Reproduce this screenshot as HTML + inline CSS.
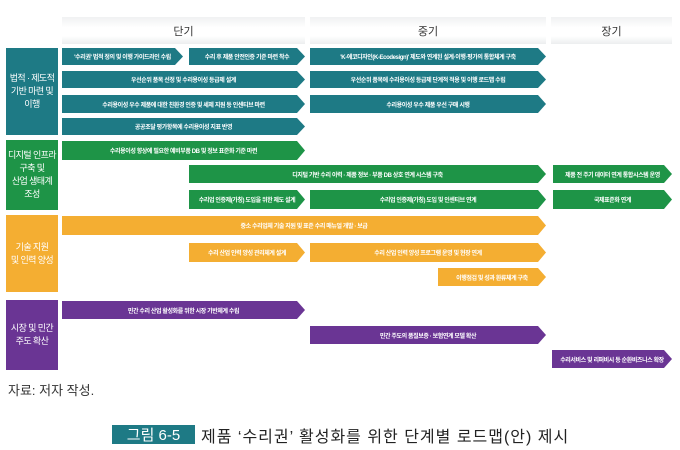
<!DOCTYPE html><html><head><meta charset="utf-8"><style>
body{margin:0;width:680px;height:450px;background:#fff;position:relative;overflow:hidden;font-family:"Liberation Sans","Noto Sans CJK KR",sans-serif}
.h{position:absolute;top:17px;height:27px;background:linear-gradient(#f0f1f2,#fff 40%,#fff 70%,#eceeef);font-size:11px;color:#333;display:flex;align-items:center;justify-content:center}
.l{position:absolute;left:6px;width:52px;color:#fff;font-size:9px;line-height:13px;letter-spacing:-0.6px;white-space:nowrap;display:flex;align-items:center;justify-content:center;text-align:center}
.a{position:absolute;color:#fff;font-size:6px;font-weight:bold;display:flex;align-items:center;justify-content:center;clip-path:polygon(0 0,calc(100% - 8px) 0,100% 50%,calc(100% - 8px) 100%,0 100%);white-space:nowrap;letter-spacing:-0.4px}
.t{background:#1e7a85}.g{background:#1e9447}.o{background:#f4ae32}.p{background:#6a3594}
</style></head><body>
<div class="h" style="left:62px;width:243px">단기</div>
<div class="h" style="left:310px;width:236px">중기</div>
<div class="h" style="left:551px;width:121px">장기</div>

<div class="l t" style="top:48px;height:87px">법적 · 제도적<br>기반 마련 및<br>이행</div>
<div class="a t" style="left:62px;top:48px;width:121px;height:17px">'수리권' 법적 정의 및 이행 가이드라인 수립</div>
<div class="a t" style="left:189px;top:48px;width:116px;height:17px">수리 후 제품 안전인증 기준 마련 착수</div>
<div class="a t" style="left:310px;top:48px;width:236px;height:17px">'K-에코디자인(K-Ecodesign)' 제도와 연계된 설계·이행·평가의 통합체계 구축</div>
<div class="a t" style="left:62px;top:71px;width:243px;height:17px">우선순위 품목 선정 및 수리용이성 등급제 설계</div>
<div class="a t" style="left:310px;top:71px;width:236px;height:17px">우선순위 품목에 수리용이성 등급제 단계적 적용 및 이행 로드맵 수립</div>
<div class="a t" style="left:62px;top:95px;width:243px;height:18px">수리용이성 우수 제품에 대한 친환경 인증 및 세제 지원 등 인센티브 마련</div>
<div class="a t" style="left:310px;top:95px;width:236px;height:18px">수리용이성 우수 제품 우선 구매 시행</div>
<div class="a t" style="left:62px;top:118px;width:243px;height:17px">공공조달 평가항목에 수리용이성 지표 반영</div>

<div class="l g" style="top:140px;height:70px">디지털 인프라<br>구축 및<br>산업 생태계<br>조성</div>
<div class="a g" style="left:62px;top:141px;width:243px;height:19px">수리용이성 향상에 필요한 예비부품 DB 및 정보 표준화 기준 마련</div>
<div class="a g" style="left:189px;top:165px;width:357px;height:18px">디지털 기반 수리 이력 · 제품 정보 · 부품 DB 상호 연계 시스템 구축</div>
<div class="a g" style="left:553px;top:165px;width:119px;height:18px">제품 전 주기 데이터 연계 통합시스템 운영</div>
<div class="a g" style="left:189px;top:190px;width:116px;height:19px">수리업 인증제(가칭) 도입을 위한 제도 설계</div>
<div class="a g" style="left:310px;top:190px;width:236px;height:19px">수리업 인증제(가칭) 도입 및 인센티브 연계</div>
<div class="a g" style="left:553px;top:190px;width:119px;height:19px">국제표준화 연계</div>

<div class="l o" style="top:215px;height:77px">기술 지원<br>및 인력 양성</div>
<div class="a o" style="left:62px;top:216px;width:484px;height:19px">중소 수리업체 기술 지원 및 표준 수리 매뉴얼 개발 · 보급</div>
<div class="a o" style="left:189px;top:243px;width:116px;height:19px">수리 산업 인력 양성 관리체계 설계</div>
<div class="a o" style="left:310px;top:243px;width:236px;height:19px">수리 산업 인력 양성 프로그램 운영 및 현장 연계</div>
<div class="a o" style="left:438px;top:268px;width:108px;height:18px">이행점검 및 성과 환류체계 구축</div>

<div class="l p" style="top:300px;height:70px">시장 및 민간<br>주도 확산</div>
<div class="a p" style="left:62px;top:301px;width:243px;height:18px">민간 수리 산업 활성화를 위한 시장 기반체계 수립</div>
<div class="a p" style="left:310px;top:326px;width:236px;height:18px">민간 주도의 품질보증 · 보험연계 모델 확산</div>
<div class="a p" style="left:552px;top:350px;width:120px;height:18px">수리서비스 및 리퍼비시 등 순환비즈니스 확장</div>

<div style="position:absolute;left:8px;top:380px;font-size:13px;color:#333">자료: 저자 작성.</div>
<div style="position:absolute;left:112px;top:425px;width:83px;height:19px;background:#1e7a85;color:#fff;font-size:15px;display:flex;align-items:center;justify-content:center">그림 6-5</div>
<div style="position:absolute;left:201px;top:423px;font-size:16px;color:#222;white-space:nowrap;letter-spacing:1px">제품 ‘수리권’ 활성화를 위한 단계별 로드맵(안) 제시</div>
</body></html>
